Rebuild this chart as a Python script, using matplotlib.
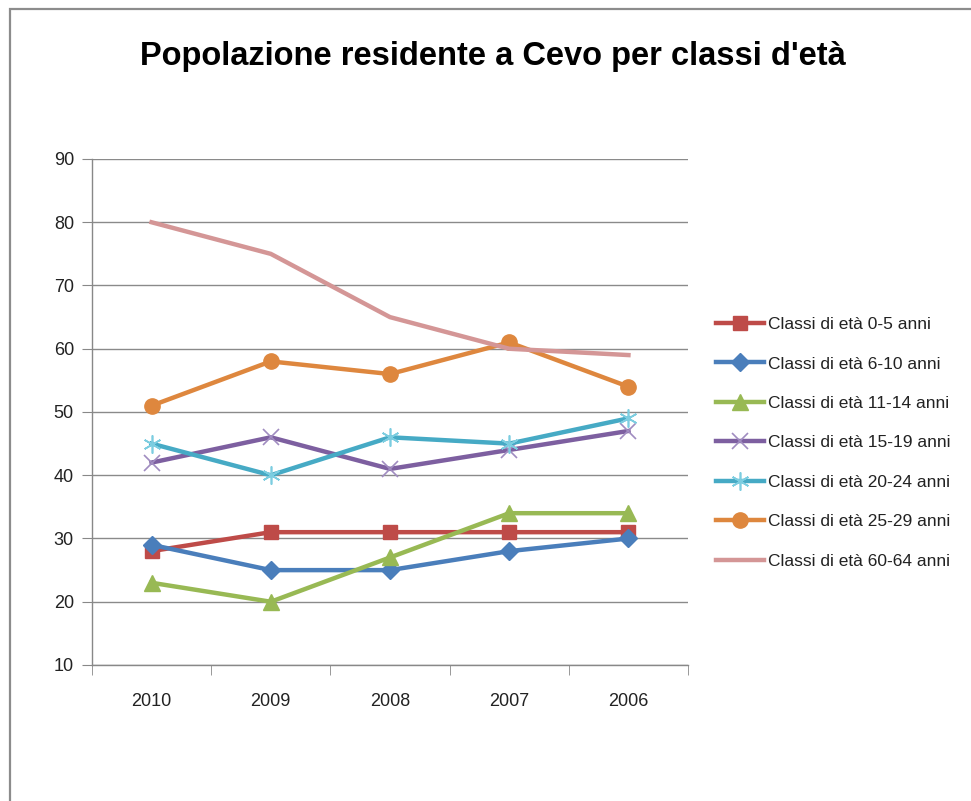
import matplotlib.pyplot as plt
from matplotlib.patches import Rectangle

# dati
anni = ['2010', '2009', '2008', '2007', '2006']
eta_0_5 = [28, 31, 31, 31, 31]
eta_6_10 = [29, 25, 25, 28, 30]
eta_11_14 = [23, 20, 27, 34, 34]
eta_15_19 = [42, 46, 41, 44, 47]
eta_20_24 = [45, 40, 46, 45, 49]
eta_25_29 = [51, 58, 56, 61, 54]
eta_60_64 = [80, 75, 65, 60, 59]

plt.rcParams['font.family'] = ['Liberation Sans', 'DejaVu Sans']

fig = plt.figure(figsize=(9.71, 8.01), dpi=100)
ax = fig.add_axes([0.0947, 0.1698, 0.6139, 0.6317])

# cornice del grafico
fig.patches.append(Rectangle((10 / 971, -0.05), 1.2, 1.05 - 9 / 801, transform=fig.transFigure,
                             fill=False, edgecolor='#8c8c8c', linewidth=1.6))

x = range(len(anni))
lw = 3.2
ax.plot(x, eta_0_5, color='#BE4B48', lw=lw, marker='s', ms=10, label='Classi di età 0-5 anni', zorder=3)
ax.plot(x, eta_6_10, color='#4A7EBB', lw=lw, marker='D', ms=9, label='Classi di età 6-10 anni', zorder=3)
ax.plot(x, eta_11_14, color='#98B954', lw=lw, marker='^', ms=11, label='Classi di età 11-14 anni', zorder=3)
ax.plot(x, eta_15_19, color='#7D5FA0', lw=lw, marker='x', ms=11, mew=1.2, mec='#a08cc0',
        label='Classi di età 15-19 anni', zorder=3)
ax.plot(x, eta_20_24, color='#46AAC5', lw=lw, marker=(6, 2, 0), ms=13, mew=1.2, mec='#7ccde0',
        label='Classi di età 20-24 anni', zorder=3)
ax.plot(x, eta_25_29, color='#DE873E', lw=lw, marker='o', ms=11, label='Classi di età 25-29 anni', zorder=3)
ax.plot(x, eta_60_64, color='#D49696', lw=lw, label='Classi di età 60-64 anni', zorder=3)

ax.set_xlim(-0.5, 4.5)
ax.set_ylim(10, 90)
ax.set_yticks(range(10, 91, 10))
ax.set_xticks(list(x))
ax.set_xticklabels(anni)
ax.set_xticks([i - 0.5 for i in range(6)], minor=True)
ax.tick_params(axis='x', which='major', length=0, pad=20, labelsize=13, colors='#222222')
ax.tick_params(axis='x', which='minor', length=7, color='#888888', direction='out')
ax.tick_params(axis='y', length=7, color='#888888', labelsize=13, pad=6, labelcolor='#222222')

ax.grid(axis='y', color='#8a8a8a', linewidth=1)
ax.set_axisbelow(True)
for s in ['top', 'right']:
    ax.spines[s].set_visible(False)
for s in ['left', 'bottom']:
    ax.spines[s].set_color('#888888')
    ax.spines[s].set_linewidth(1)

fig.text(0.508, 0.93, "Popolazione residente a Cevo per classi d'età", ha='center', va='center',
         fontsize=23.5, fontweight='bold')

ax.legend(loc='center left', bbox_to_anchor=(1.02, 0.439), frameon=False, fontsize=12.5,
          handlelength=2.8, handletextpad=0.2, labelspacing=1.4, labelcolor='#222222')

fig.savefig('out.png', dpi=100)
